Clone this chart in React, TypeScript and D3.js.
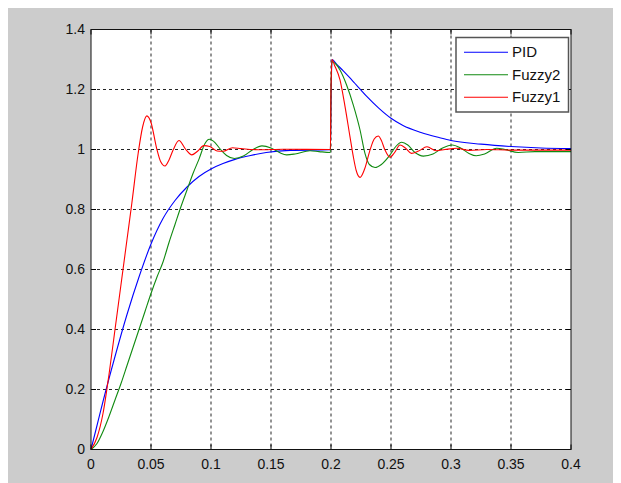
import React from 'react';
import * as d3 from 'd3';

// step response values: [time, output]
const pid: [number, number][] = [
  [0, 0], [0.005, 0.08], [0.01, 0.16], [0.02, 0.31], [0.03, 0.45], [0.04, 0.575],
  [0.05, 0.685], [0.06, 0.77], [0.07, 0.83], [0.08, 0.875], [0.09, 0.91], [0.1, 0.935],
  [0.11, 0.953], [0.12, 0.967], [0.133, 0.98], [0.146, 0.99], [0.166, 0.997],
  [0.1995, 0.999], [0.2, 1.15], [0.2008, 1.3],
  [0.205, 1.283], [0.21, 1.263], [0.215, 1.242], [0.22, 1.22], [0.225, 1.198],
  [0.23, 1.176], [0.24, 1.137], [0.25, 1.104], [0.26, 1.08], [0.275, 1.057],
  [0.29, 1.04], [0.3, 1.03], [0.325, 1.018], [0.35, 1.01], [0.375, 1.005], [0.4, 1.003]
];

const fuzzy2: [number, number][] = [
  [0, 0], [0.005, 0.02], [0.01, 0.06], [0.015, 0.11], [0.02, 0.165], [0.025, 0.22],
  [0.03, 0.28], [0.035, 0.34], [0.04, 0.4], [0.045, 0.46], [0.05, 0.52], [0.055, 0.575],
  [0.06, 0.625], [0.065, 0.69], [0.07, 0.75], [0.075, 0.81], [0.08, 0.865], [0.085, 0.92],
  [0.09, 0.968], [0.095, 1.02], [0.0985, 1.034], [0.102, 1.028], [0.108, 1.0],
  [0.113, 0.98], [0.1195, 0.97], [0.127, 0.978], [0.135, 1.0],
  [0.1425, 1.012], [0.15, 1.005], [0.157, 0.99], [0.163, 0.982], [0.17, 0.985],
  [0.1825, 0.996], [0.19, 0.993], [0.1995, 0.99], [0.2, 1.2], [0.2008, 1.293],
  [0.204, 1.285], [0.2075, 1.265], [0.213, 1.215], [0.2186, 1.148], [0.2242, 1.065],
  [0.2283, 0.987], [0.232, 0.95], [0.2367, 0.94], [0.242, 0.95], [0.2492, 0.982],
  [0.254, 1.01], [0.2589, 1.024], [0.264, 1.015], [0.27, 0.99], [0.277, 0.978],
  [0.285, 0.985], [0.293, 1.005], [0.301, 1.015], [0.308, 1.005], [0.315, 0.987],
  [0.321, 0.979], [0.328, 0.985], [0.338, 1.004], [0.345, 1.0], [0.356, 0.99],
  [0.37, 0.993], [0.4, 0.993]
];

const fuzzy1: [number, number][] = [
  [0, 0], [0.005, 0.04], [0.01, 0.12], [0.015, 0.25], [0.02, 0.4], [0.025, 0.55],
  [0.03, 0.7], [0.034, 0.82], [0.0394, 0.99], [0.043, 1.075], [0.0465, 1.112],
  [0.05, 1.09], [0.0547, 1.004], [0.058, 0.96],
  [0.0617, 0.945], [0.065, 0.965], [0.0686, 1.0], [0.0733, 1.03], [0.079, 1.0],
  [0.084, 0.982], [0.089, 0.995], [0.094, 1.013], [0.099, 1.01], [0.105, 0.995],
  [0.11, 0.994], [0.118, 1.006], [0.125, 1.003], [0.14, 0.999], [0.16, 1.001],
  [0.1995, 1.0], [0.2, 1.2], [0.2008, 1.3], [0.203, 1.28], [0.2075, 1.232],
  [0.2117, 1.143], [0.2158, 1.043], [0.2186, 0.976], [0.221, 0.93], [0.2242, 0.907],
  [0.228, 0.935], [0.2325, 0.998], [0.236, 1.035], [0.2394, 1.045], [0.242, 1.03],
  [0.245, 0.998], [0.2492, 0.974], [0.253, 0.99], [0.2575, 1.015], [0.262, 1.005],
  [0.267, 0.987], [0.273, 0.995], [0.28, 1.009], [0.2875, 0.996], [0.295, 1.0],
  [0.305, 1.004], [0.315, 0.997], [0.33, 1.0], [0.35, 0.998], [0.4, 0.998]
];

const xTicks = [0, 0.05, 0.1, 0.15, 0.2, 0.25, 0.3, 0.35, 0.4];
const yTicks = [0, 0.2, 0.4, 0.6, 0.8, 1, 1.2, 1.4];

const seriesNames = ['PID', 'Fuzzy2', 'Fuzzy1'];
const seriesColors = ['#0000ff', '#108a10', '#ff0000'];

const W = 613, H = 475;
const left = 83, top = 21.5, plotW = 480, plotH = 420;
const font = 'Arial, "Liberation Sans", sans-serif';

export default function App() {
  const x = d3.scaleLinear().domain([0, 0.4]).range([left, left + plotW]);
  const y = d3.scaleLinear().domain([0, 1.4]).range([top + plotH, top]);
  const line = d3.line<[number, number]>()
    .x(d => x(d[0]))
    .y(d => y(d[1]))
    .curve(d3.curveMonotoneX);

  const allSeries = [pid, fuzzy2, fuzzy1];
  const lg = { x: 448, y: 29.5, w: 112.5, h: 74.5 };

  return (
    <svg width={W} height={H} style={{ display: 'block' }}>
      <rect x={0} y={0} width={W} height={H} fill="#cccccc" />
      <rect x={left} y={top} width={plotW} height={plotH} fill="#ffffff" />

      {/* dashed grid */}
      {xTicks.slice(1, -1).map(t => (
        <line key={'gx' + t} x1={x(t)} x2={x(t)} y1={top} y2={top + plotH}
          stroke="#000" strokeWidth={1} strokeDasharray="3,3" opacity={0.85} />
      ))}
      {yTicks.slice(1, -1).map(t => (
        <line key={'gy' + t} x1={left} x2={left + plotW} y1={y(t)} y2={y(t)}
          stroke="#000" strokeWidth={1} strokeDasharray="3,3" opacity={0.85} />
      ))}

      {allSeries.map((s, i) => (
        <path key={seriesNames[i]} d={line(s) || ''} fill="none"
          stroke={seriesColors[i]} strokeWidth={1.1} />
      ))}

      {/* inward ticks on all sides */}
      {xTicks.map(t => (
        <g key={'tx' + t}>
          <line x1={x(t)} x2={x(t)} y1={top + plotH} y2={top + plotH - 5} stroke="#000" />
          <line x1={x(t)} x2={x(t)} y1={top} y2={top + 5} stroke="#000" />
        </g>
      ))}
      {yTicks.map(t => (
        <g key={'ty' + t}>
          <line x1={left} x2={left + 5} y1={y(t)} y2={y(t)} stroke="#000" />
          <line x1={left + plotW} x2={left + plotW - 5} y1={y(t)} y2={y(t)} stroke="#000" />
        </g>
      ))}

      <rect x={left} y={top} width={plotW} height={plotH} fill="none" stroke="#111" strokeWidth={1} />

      {xTicks.map(t => (
        <text key={'lx' + t} x={x(t)} y={461} textAnchor="middle" fontFamily={font}
          fontSize={14} fill="#111">{String(t)}</text>
      ))}
      {yTicks.map(t => (
        <text key={'ly' + t} x={left - 6} y={y(t)} dy="0.35em" textAnchor="end"
          fontFamily={font} fontSize={14} fill="#111">{String(t)}</text>
      ))}

      {/* legend */}
      <rect x={lg.x} y={lg.y} width={lg.w} height={lg.h} fill="#fff" stroke="#555" strokeWidth={1.5} />
      {seriesNames.map((n, i) => {
        const ry = lg.y + 14.7 + i * 22.5;
        return (
          <g key={'lg' + n}>
            <line x1={lg.x + 8} x2={lg.x + 52} y1={ry} y2={ry} stroke={seriesColors[i]} strokeWidth={1.1} />
            <text x={lg.x + 56} y={ry} dy="0.35em" fontFamily={font} fontSize={15} fill="#111">{n}</text>
          </g>
        );
      })}
    </svg>
  );
}
